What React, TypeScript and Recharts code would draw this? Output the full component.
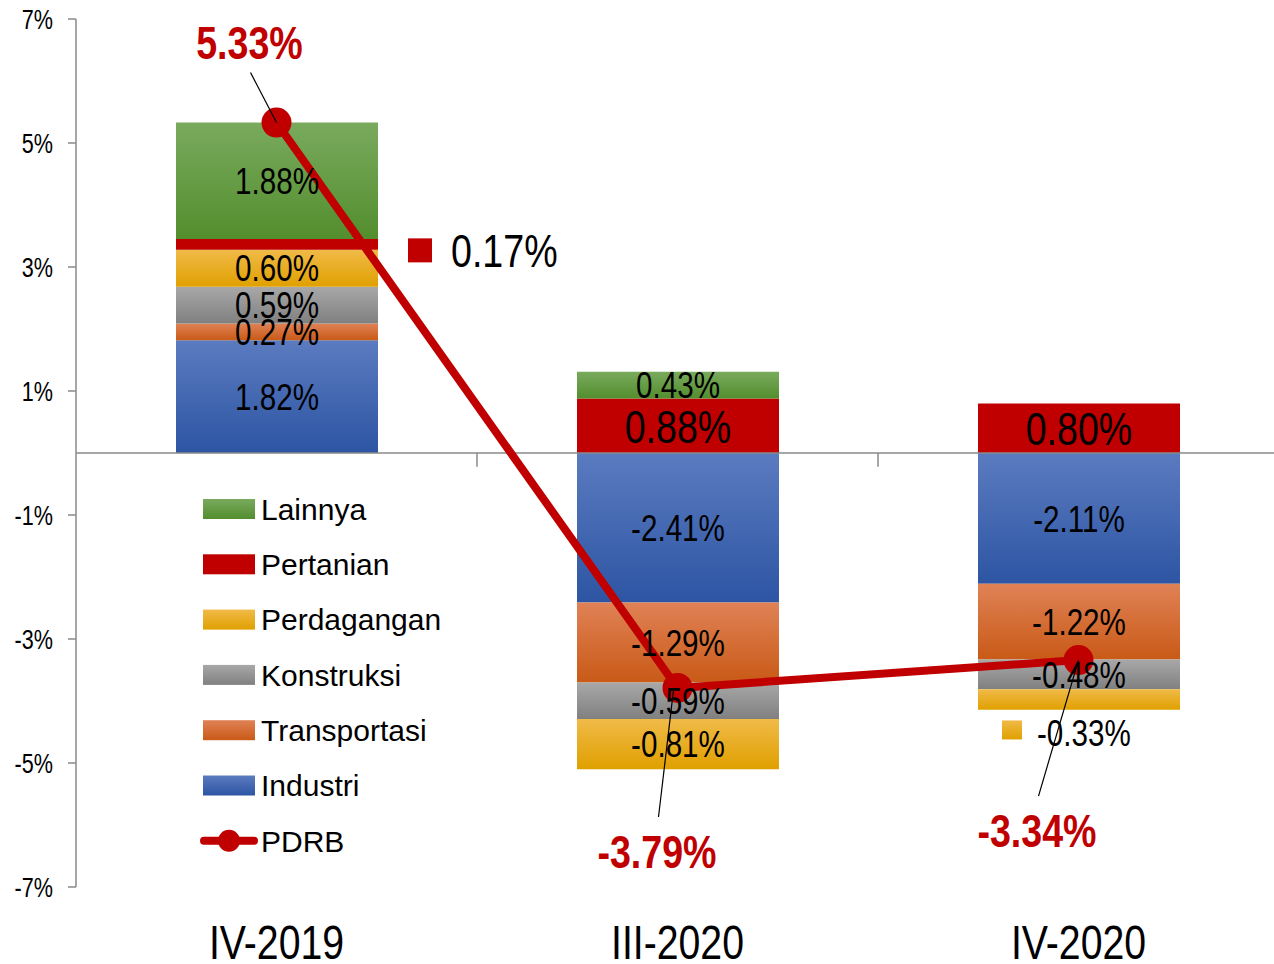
import React from 'react';
import { ComposedChart, Bar, Line, XAxis, YAxis, ReferenceLine, LabelList, Legend } from 'recharts';

const categories = ['IV-2019', 'III-2020', 'IV-2020'];
const industri = [1.82, -2.41, -2.11];
const transportasi = [0.27, -1.29, -1.22];
const konstruksi = [0.59, -0.59, -0.48];
const perdagangan = [0.6, -0.81, -0.33];
const pertanian = [0.17, 0.88, 0.8];
const lainnya = [1.88, 0.43, 0.0];
const pdrb = [5.33, -3.79, -3.34];
const yTicks = [-7, -5, -3, -1, 1, 3, 5, 7];

const SANS = '"Liberation Sans", Arial, sans-serif';
const NARROW_X = 0.8; // Arial Narrow ≈ Arial squeezed horizontally
const RED = '#c00000';
const AXIS = '#8a8a8a';

type Series = { key: string; values: number[]; top: string; bottom: string; fontSize: number };

const series: Series[] = [
  { key: 'Industri', values: industri, top: '#5b7bc0', bottom: '#2d55a3', fontSize: 37 },
  { key: 'Transportasi', values: transportasi, top: '#e08256', bottom: '#c95a17', fontSize: 37 },
  { key: 'Konstruksi', values: konstruksi, top: '#a8a8a8', bottom: '#808080', fontSize: 37 },
  { key: 'Perdagangan', values: perdagangan, top: '#f0ba48', bottom: '#e0a000', fontSize: 37 },
  { key: 'Pertanian', values: pertanian, top: RED, bottom: RED, fontSize: 47 },
  { key: 'Lainnya', values: lainnya, top: '#79aa5d', bottom: '#538e2e', fontSize: 37 },
];

const data = categories.map((cat, i) => {
  const row: Record<string, any> = { cat, PDRB: pdrb[i] };
  series.forEach((s) => {
    row[s.key] = s.values[i];
  });
  return row;
});

// label placements that sit outside their segment
const outside: Record<string, Record<number, string>> = {
  Pertanian: { 0: 'right' },
  Lainnya: { 2: 'above' },
  Perdagangan: { 2: 'below' },
};

const fmt = (v: number) => `${v.toFixed(2)}%`;

const NText = ({ x, y, anchor = 'start', fs, weight = 'normal', fill = '#000', children }: any) => (
  <text
    transform={`translate(${x},${y}) scale(${NARROW_X},1)`}
    x={0}
    y={0}
    textAnchor={anchor}
    fontFamily={SANS}
    fontSize={fs}
    fontWeight={weight}
    fill={fill}
  >
    {children}
  </text>
);

const makeBarLabel = (s: Series) => (props: any) => {
  const { x, y, width, height, index, value } = props;
  const X = Number(x);
  const Y = Number(y);
  const W = Number(width);
  const H = Number(height);
  const v = typeof value === 'number' ? value : s.values[index];
  const txt = fmt(v);
  const fs = s.fontSize;
  const cx = X + W / 2;
  const cy = Y + H / 2;
  const mode = outside[s.key]?.[index];
  if (mode === 'right') {
    const my = cy + 6;
    return (
      <g>
        <rect x={X + W + 30} y={my - 12} width={24} height={24} fill={s.bottom} />
        <NText x={X + W + 73} y={my + 0.358 * fs} fs={fs}>
          {txt}
        </NText>
      </g>
    );
  }
  if (mode === 'above') {
    const top = Math.min(Y, Y + H);
    return (
      <g>
        <rect x={X - 17} y={top - 59} width={20} height={19} fill={`url(#g-${s.key})`} />
        <line x1={X} y1={top} x2={X + 56} y2={top - 22} stroke="#000" strokeWidth={1.2} />
        <NText x={X + 58} y={top - 46 + 0.358 * fs} fs={fs}>
          {txt}
        </NText>
      </g>
    );
  }
  if (mode === 'below') {
    return (
      <g>
        <rect x={X + 24} y={cy + 21} width={20} height={19} fill={`url(#g-${s.key})`} />
        <NText x={X + 59} y={cy + 33 + 0.358 * fs} fs={fs}>
          {txt}
        </NText>
      </g>
    );
  }
  return (
    <NText x={cx} y={cy + 0.358 * fs} anchor="middle" fs={fs}>
      {txt}
    </NText>
  );
};

// manual placement of PDRB labels relative to their points
const pdrbLabelPos = [
  { dx: -27, dy: -63.5, l: [-26, -50, 0, 0] },
  { dx: -20.5, dy: 180, l: [-19, 129, -4, 2] },
  { dx: -41.5, dy: 187, l: [-40, 136, 0, 0] },
];

const PdrbLabel = (props: any) => {
  const { x, y, index, value } = props;
  const p = pdrbLabelPos[index];
  const X = Number(x);
  const Y = Number(y);
  const v = typeof value === 'number' ? value : pdrb[index];
  return (
    <g>
      <line x1={X + p.l[0]} y1={Y + p.l[1]} x2={X + p.l[2]} y2={Y + p.l[3]} stroke="#000" strokeWidth={1.2} />
      <NText x={X + p.dx} y={Y + p.dy} anchor="middle" fs={47} weight="bold" fill={RED}>
        {fmt(v)}
      </NText>
    </g>
  );
};

const XTick = (props: any) => {
  const { x, y, payload } = props;
  return (
    <NText x={x} y={Number(y) + 64} anchor="middle" fs={49}>
      {payload.value}
    </NText>
  );
};

const YTick = (props: any) => {
  const { x, y, payload } = props;
  return (
    <NText x={x} y={Number(y) + 0.358 * 27} anchor="end" fs={27}>
      {`${payload.value}%`}
    </NText>
  );
};

const legendItems = [...series].reverse();

const renderLegend = () => {
  const rowH = 55.3;
  return (
    <svg width={320} height={400} style={{ display: 'block' }}>
      {legendItems.map((s, i) => {
        const cy = 29 + i * rowH;
        return (
          <g key={s.key}>
            <rect x={8} y={cy - 10} width={52} height={20} fill={`url(#g-${s.key})`} />
            <text x={66} y={cy + 0.358 * 30} fontFamily={SANS} fontSize={30} fill="#000">
              {s.key}
            </text>
          </g>
        );
      })}
      {(() => {
        const cy = 29 + legendItems.length * rowH;
        return (
          <g>
            <line x1={9} y1={cy} x2={59} y2={cy} stroke={RED} strokeWidth={8} strokeLinecap="round" />
            <circle cx={34} cy={cy} r={11} fill={RED} />
            <text x={66} y={cy + 0.358 * 30} fontFamily={SANS} fontSize={30} fill="#000">
              PDRB
            </text>
          </g>
        );
      })()}
    </svg>
  );
};

export default function App() {
  return (
    <div
      style={{
        position: 'absolute',
        left: 0,
        top: 0,
        width: 1274,
        height: 964,
        overflow: 'hidden',
        background: '#fff',
      }}
    >
      <ComposedChart
        width={1285}
        height={964}
        data={data}
        stackOffset="sign"
        margin={{ top: 19, right: 6, left: 0, bottom: 0 }}
        barCategoryGap={0}
      >
        <defs>
          {series.map((s) => (
            <linearGradient key={s.key} id={`g-${s.key}`} x1="0" y1="0" x2="0" y2="1">
              <stop offset="0%" stopColor={s.top} />
              <stop offset="100%" stopColor={s.bottom} />
            </linearGradient>
          ))}
        </defs>
        <XAxis dataKey="cat" axisLine={false} tickLine={false} height={77} tick={<XTick />} interval={0} />
        <YAxis
          width={76}
          domain={[-7, 7]}
          ticks={yTicks}
          interval={0}
          axisLine={{ stroke: AXIS, strokeWidth: 1.5 }}
          tickLine={{ stroke: AXIS, strokeWidth: 1.5 }}
          tickSize={8}
          tickMargin={15}
          tick={<YTick />}
        />
        <ReferenceLine y={0} stroke={AXIS} strokeWidth={1.5} />
        {categories.slice(1).map((c) => (
          <ReferenceLine
            key={c}
            position="start"
            segment={[
              { x: c, y: 0 },
              { x: c, y: -0.22 },
            ]}
            stroke={AXIS}
            strokeWidth={1.5}
          />
        ))}
        {series.map((s) => (
          <Bar
            key={s.key}
            dataKey={s.key}
            stackId="a"
            barSize={202}
            fill={`url(#g-${s.key})`}
            isAnimationActive={false}
          >
            <LabelList dataKey={s.key} content={makeBarLabel(s)} />
          </Bar>
        ))}
        <Line
          dataKey="PDRB"
          stroke={RED}
          strokeWidth={8}
          dot={{ r: 15, fill: RED, stroke: RED, strokeWidth: 0 }}
          activeDot={false}
          isAnimationActive={false}
        >
          <LabelList dataKey="PDRB" content={<PdrbLabel />} />
        </Line>
        <Legend
          layout="vertical"
          align="center"
          verticalAlign="middle"
          content={renderLegend}
          wrapperStyle={{ left: 195, top: 480, width: 320, height: 400 }}
        />
      </ComposedChart>
    </div>
  );
}
